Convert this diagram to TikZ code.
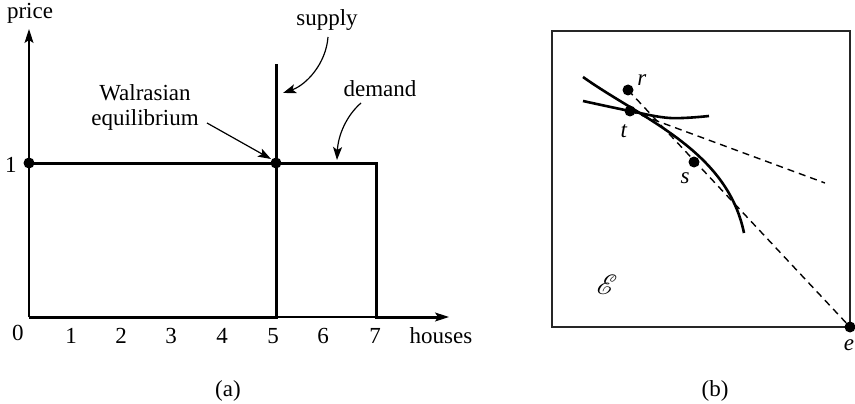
\documentclass[tikz,border=0pt]{standalone}
\usepackage{fontspec}
\setmainfont{Liberation Serif}
\usepackage{mathrsfs}
\usetikzlibrary{arrows.meta}
\begin{document}
\begin{tikzpicture}[x=1pt,y=-1pt,
  lbl/.style={font=\fontsize{23}{26}\selectfont, inner sep=0pt, anchor=base},
  axisline/.style={line width=1.2pt},
  heavy/.style={line width=3pt},
  curveline/.style={line width=2.6pt},
  dashline/.style={line width=1.4pt, dash pattern=on 7pt off 5pt},
  dotnode/.style={circle, fill=black, inner sep=0pt, minimum size=11pt},
  tip/.style={-{Stealth[length=14pt,width=9pt,inset=3pt]}},
  smalltip/.style={-{Stealth[length=13pt,width=9pt,inset=3pt]}}
]
\path[use as bounding box] (0,0) rectangle (855,404);

% ---------- panel (a) ----------
\coordinate (O) at (29,317);
\coordinate (ytop) at (29,29);
\coordinate (xend) at (449,317);
\draw[axisline,tip] (O) -- (ytop);
\draw[axisline,tip] (O) -- (xend);
% supply
\coordinate (s0) at (276,317);
\coordinate (s1) at (276,64);
\draw[heavy] (O) -- (s0) -- (s1);
% demand
\coordinate (d0) at (29,163);
\coordinate (d1) at (376,163);
\coordinate (d2) at (376,317);
\coordinate (d3) at (437,317);
\draw[heavy] (d0) -- (d1) -- (d2) -- (d3);
\node[dotnode] (p1) at (29,163) {};
\node[dotnode] (eq) at (276,163) {};

\node[lbl] (price) at (30,19) {price};
\node[lbl] (one) at (11,172) {1};
\node[lbl] (n0) at (18,340) {0};
\node[lbl] (n1) at (71,343) {1};
\node[lbl] (n2) at (121,343) {2};
\node[lbl] (n3) at (171,343) {3};
\node[lbl] (n4) at (222,343) {4};
\node[lbl] (n5) at (273,343) {5};
\node[lbl] (n6) at (323,343) {6};
\node[lbl] (n7) at (375,343) {7};
\node[lbl] (houses) at (441,343) {houses};
\node[lbl] (capa) at (228,396) {(a)};

\node[lbl] (supply) at (327,26) {supply};
\node[lbl] (demand) at (380,97) {demand};
\node[lbl] (walras) at (145,100) {Walrasian};
\node[lbl] (equil) at (145,125) {equilibrium};

\coordinate (sa) at (328,37);
\coordinate (sb) at (283,93);
\draw[axisline,smalltip] (sa) .. controls (326,64) and (306,85) .. (sb);
\coordinate (da) at (361,103);
\coordinate (db) at (337,160);
\draw[axisline,smalltip] (da) .. controls (346,116) and (338,136) .. (db);
\coordinate (wa) at (207,123);
\coordinate (wb) at (271,159);
\draw[axisline,smalltip] (wa) -- (wb);

% ---------- panel (b) ----------
\draw[line width=1.4pt, black!85] (552,31) rectangle (850,327);
\node[dotnode] (e) at (850,327) {};
\node[dotnode] (r) at (628,90) {};
\node[dotnode] (t) at (630,111) {};
\node[dotnode] (s) at (694,162) {};
\coordinate (tend) at (825,183);
\draw[dashline] (r.center) -- (e.center);
\draw[dashline] (t.center) -- (tend);
\draw[curveline] plot[smooth, tension=0.6] coordinates {(583,101) (630,111) (670,118) (709,116)};
\coordinate (c2a) at (583,77);
\coordinate (c2b) at (744,233);
\draw[curveline] (c2a) .. controls (642,119) and (727,150) .. (c2b);

\node[lbl] (rl) at (642,85) {\textit{r}};
\node[lbl] (tl) at (624,138) {\textit{t}};
\node[lbl] (sl) at (685,183) {\textit{s}};
\node[lbl] (el) at (849,350) {\textit{e}};
\node[lbl] (El) at (607,294) {\scalebox{1.12}{$\mathscr{E}$}};
\node[lbl] (capb) at (715,396) {(b)};
\end{tikzpicture}
\end{document}
